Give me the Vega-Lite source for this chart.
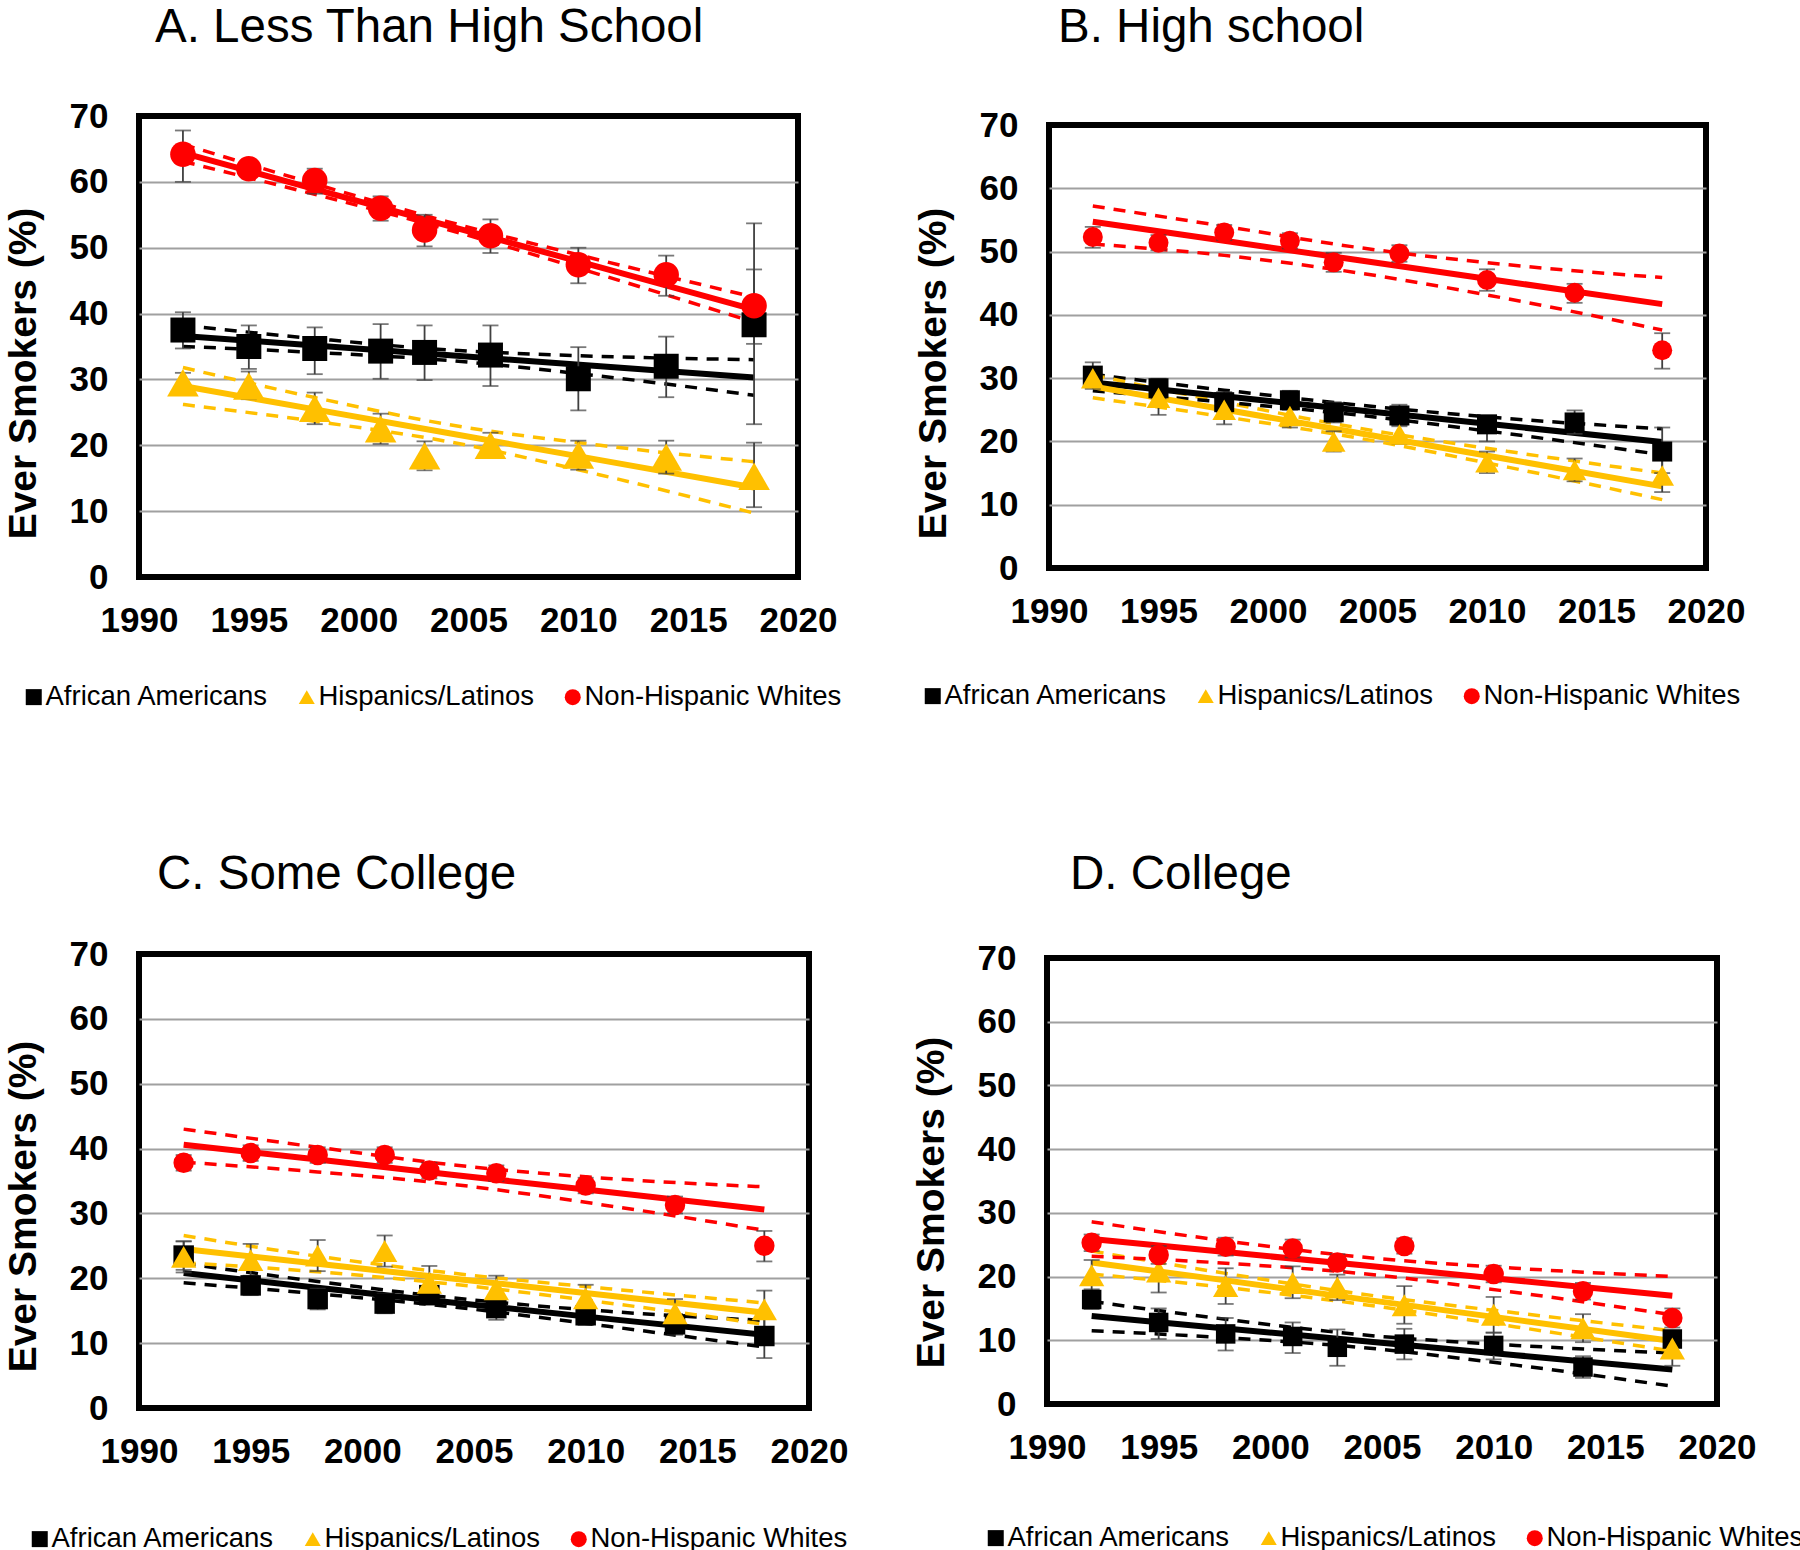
{
  "$schema": "https://vega.github.io/schema/vega-lite/v6.json",
  "background": "white",
  "padding": {"left": 0, "top": 0, "right": 0, "bottom": 0},
  "config": {
    "view": {"stroke": "black", "strokeWidth": 6},
    "font": "Liberation Sans",
    "axis": {"labelFont": "Liberation Sans", "labelFontSize": 35, "labelFontWeight": "bold", "labelColor": "black", "titleFont": "Liberation Sans", "titleFontSize": 39, "titleFontWeight": "bold", "titleColor": "black", "domain": false, "ticks": false, "grid": false},
    "axisX": {"labelPadding": 26, "labelFlush": false},
    "axisY": {"labelPadding": 31, "grid": true, "gridColor": "#A0A0A0", "gridWidth": 2, "titleAngle": -90, "titleBaseline": "middle", "titleAlign": "center"},
    "legend": {"orient": "none", "direction": "horizontal", "labelFont": "Liberation Sans", "labelFontSize": 27.5, "labelColor": "black", "labelLimit": 500, "symbolSize": 256, "symbolStrokeWidth": 0, "labelOffset": -2, "columnPadding": 24, "padding": 0},
    "title": {"font": "Liberation Sans", "fontSize": 47.5, "fontWeight": "normal", "color": "black", "anchor": "start", "baseline": "alphabetic", "frame": "group"}
  },
  "datasets": {
    "pts": [
      {"p":"A","g":"Non-Hispanic Whites","yr":1992,"v":64.2,"lo":60.0,"hi":67.8},
      {"p":"A","g":"Non-Hispanic Whites","yr":1995,"v":62.0,"lo":60.8,"hi":63.2},
      {"p":"A","g":"Non-Hispanic Whites","yr":1998,"v":60.2,"lo":58.2,"hi":62.0},
      {"p":"A","g":"Non-Hispanic Whites","yr":2001,"v":56.0,"lo":54.1,"hi":57.8},
      {"p":"A","g":"Non-Hispanic Whites","yr":2003,"v":52.7,"lo":50.2,"hi":55.0},
      {"p":"A","g":"Non-Hispanic Whites","yr":2006,"v":51.8,"lo":49.2,"hi":54.3},
      {"p":"A","g":"Non-Hispanic Whites","yr":2010,"v":47.4,"lo":44.6,"hi":50.0},
      {"p":"A","g":"Non-Hispanic Whites","yr":2014,"v":45.9,"lo":42.7,"hi":48.8},
      {"p":"A","g":"Non-Hispanic Whites","yr":2018,"v":41.2,"lo":35.4,"hi":46.7},
      {"p":"A","g":"African Americans","yr":1992,"v":37.5,"lo":34.7,"hi":40.2},
      {"p":"A","g":"African Americans","yr":1995,"v":35.0,"lo":31.6,"hi":38.2},
      {"p":"A","g":"African Americans","yr":1998,"v":34.7,"lo":30.8,"hi":37.9},
      {"p":"A","g":"African Americans","yr":2001,"v":34.3,"lo":30.1,"hi":38.4},
      {"p":"A","g":"African Americans","yr":2003,"v":34.1,"lo":29.9,"hi":38.2},
      {"p":"A","g":"African Americans","yr":2006,"v":33.7,"lo":29.0,"hi":38.2},
      {"p":"A","g":"African Americans","yr":2010,"v":30.1,"lo":25.3,"hi":34.9},
      {"p":"A","g":"African Americans","yr":2014,"v":32.0,"lo":27.3,"hi":36.5},
      {"p":"A","g":"African Americans","yr":2018,"v":38.3,"lo":23.2,"hi":53.7},
      {"p":"A","g":"Hispanics/Latinos","yr":1992,"v":29.5,"lo":28.0,"hi":31.0},
      {"p":"A","g":"Hispanics/Latinos","yr":1995,"v":29.0,"lo":27.0,"hi":31.2},
      {"p":"A","g":"Hispanics/Latinos","yr":1998,"v":25.6,"lo":23.2,"hi":28.0},
      {"p":"A","g":"Hispanics/Latinos","yr":2001,"v":22.5,"lo":20.2,"hi":24.8},
      {"p":"A","g":"Hispanics/Latinos","yr":2003,"v":18.4,"lo":16.2,"hi":20.6},
      {"p":"A","g":"Hispanics/Latinos","yr":2006,"v":20.0,"lo":18.1,"hi":21.9},
      {"p":"A","g":"Hispanics/Latinos","yr":2010,"v":18.5,"lo":16.3,"hi":20.7},
      {"p":"A","g":"Hispanics/Latinos","yr":2014,"v":18.2,"lo":15.7,"hi":20.7},
      {"p":"A","g":"Hispanics/Latinos","yr":2018,"v":15.3,"lo":10.6,"hi":20.4},
      {"p":"B","g":"Non-Hispanic Whites","yr":1992,"v":52.3,"lo":50.6,"hi":53.9},
      {"p":"B","g":"Non-Hispanic Whites","yr":1995,"v":51.4,"lo":50.2,"hi":52.6},
      {"p":"B","g":"Non-Hispanic Whites","yr":1998,"v":53.0,"lo":51.8,"hi":54.2},
      {"p":"B","g":"Non-Hispanic Whites","yr":2001,"v":51.7,"lo":50.5,"hi":52.9},
      {"p":"B","g":"Non-Hispanic Whites","yr":2003,"v":48.3,"lo":46.8,"hi":49.8},
      {"p":"B","g":"Non-Hispanic Whites","yr":2006,"v":49.7,"lo":48.4,"hi":51.0},
      {"p":"B","g":"Non-Hispanic Whites","yr":2010,"v":45.5,"lo":43.8,"hi":47.2},
      {"p":"B","g":"Non-Hispanic Whites","yr":2014,"v":43.5,"lo":41.9,"hi":44.9},
      {"p":"B","g":"Non-Hispanic Whites","yr":2018,"v":34.4,"lo":31.5,"hi":37.1},
      {"p":"B","g":"African Americans","yr":1992,"v":30.4,"lo":28.3,"hi":32.5},
      {"p":"B","g":"African Americans","yr":1995,"v":28.4,"lo":26.8,"hi":29.9},
      {"p":"B","g":"African Americans","yr":1998,"v":26.2,"lo":24.6,"hi":27.8},
      {"p":"B","g":"African Americans","yr":2001,"v":26.5,"lo":25.0,"hi":28.0},
      {"p":"B","g":"African Americans","yr":2003,"v":24.6,"lo":23.0,"hi":26.2},
      {"p":"B","g":"African Americans","yr":2006,"v":24.1,"lo":22.4,"hi":25.8},
      {"p":"B","g":"African Americans","yr":2010,"v":22.7,"lo":20.0,"hi":24.0},
      {"p":"B","g":"African Americans","yr":2014,"v":23.0,"lo":21.2,"hi":24.9},
      {"p":"B","g":"African Americans","yr":2018,"v":18.4,"lo":15.0,"hi":22.2},
      {"p":"B","g":"Hispanics/Latinos","yr":1992,"v":30.0,"lo":28.5,"hi":31.5},
      {"p":"B","g":"Hispanics/Latinos","yr":1995,"v":26.9,"lo":24.2,"hi":29.5},
      {"p":"B","g":"Hispanics/Latinos","yr":1998,"v":25.0,"lo":22.7,"hi":27.3},
      {"p":"B","g":"Hispanics/Latinos","yr":2001,"v":24.0,"lo":22.2,"hi":25.8},
      {"p":"B","g":"Hispanics/Latinos","yr":2003,"v":20.0,"lo":18.4,"hi":21.6},
      {"p":"B","g":"Hispanics/Latinos","yr":2006,"v":21.1,"lo":19.6,"hi":22.6},
      {"p":"B","g":"Hispanics/Latinos","yr":2010,"v":16.7,"lo":15.0,"hi":18.4},
      {"p":"B","g":"Hispanics/Latinos","yr":2014,"v":15.5,"lo":13.7,"hi":17.3},
      {"p":"B","g":"Hispanics/Latinos","yr":2018,"v":14.6,"lo":12.0,"hi":17.2},
      {"p":"C","g":"Non-Hispanic Whites","yr":1992,"v":37.8,"lo":36.6,"hi":39.0},
      {"p":"C","g":"Non-Hispanic Whites","yr":1995,"v":39.3,"lo":38.1,"hi":40.5},
      {"p":"C","g":"Non-Hispanic Whites","yr":1998,"v":39.0,"lo":37.8,"hi":40.2},
      {"p":"C","g":"Non-Hispanic Whites","yr":2001,"v":39.0,"lo":37.8,"hi":40.2},
      {"p":"C","g":"Non-Hispanic Whites","yr":2003,"v":36.6,"lo":35.4,"hi":37.8},
      {"p":"C","g":"Non-Hispanic Whites","yr":2006,"v":36.2,"lo":35.0,"hi":37.4},
      {"p":"C","g":"Non-Hispanic Whites","yr":2010,"v":34.3,"lo":33.1,"hi":35.5},
      {"p":"C","g":"Non-Hispanic Whites","yr":2014,"v":31.3,"lo":30.0,"hi":32.6},
      {"p":"C","g":"Non-Hispanic Whites","yr":2018,"v":25.0,"lo":22.6,"hi":27.3},
      {"p":"C","g":"African Americans","yr":1992,"v":23.5,"lo":21.3,"hi":25.7},
      {"p":"C","g":"African Americans","yr":1995,"v":18.9,"lo":17.4,"hi":20.4},
      {"p":"C","g":"African Americans","yr":1998,"v":16.8,"lo":15.2,"hi":18.4},
      {"p":"C","g":"African Americans","yr":2001,"v":16.1,"lo":14.6,"hi":17.6},
      {"p":"C","g":"African Americans","yr":2003,"v":17.4,"lo":16.0,"hi":18.8},
      {"p":"C","g":"African Americans","yr":2006,"v":15.4,"lo":13.6,"hi":17.2},
      {"p":"C","g":"African Americans","yr":2010,"v":14.3,"lo":12.8,"hi":15.8},
      {"p":"C","g":"African Americans","yr":2014,"v":12.9,"lo":11.3,"hi":14.5},
      {"p":"C","g":"African Americans","yr":2018,"v":11.1,"lo":7.7,"hi":14.5},
      {"p":"C","g":"Hispanics/Latinos","yr":1992,"v":23.3,"lo":20.9,"hi":25.7},
      {"p":"C","g":"Hispanics/Latinos","yr":1995,"v":22.8,"lo":20.3,"hi":25.3},
      {"p":"C","g":"Hispanics/Latinos","yr":1998,"v":23.5,"lo":21.1,"hi":25.9},
      {"p":"C","g":"Hispanics/Latinos","yr":2001,"v":24.2,"lo":21.8,"hi":26.6},
      {"p":"C","g":"Hispanics/Latinos","yr":2003,"v":19.3,"lo":16.7,"hi":21.9},
      {"p":"C","g":"Hispanics/Latinos","yr":2006,"v":18.3,"lo":16.2,"hi":20.4},
      {"p":"C","g":"Hispanics/Latinos","yr":2010,"v":16.9,"lo":14.8,"hi":19.0},
      {"p":"C","g":"Hispanics/Latinos","yr":2014,"v":14.6,"lo":12.4,"hi":16.8},
      {"p":"C","g":"Hispanics/Latinos","yr":2018,"v":15.2,"lo":12.3,"hi":18.1},
      {"p":"D","g":"Non-Hispanic Whites","yr":1992,"v":25.3,"lo":24.0,"hi":26.6},
      {"p":"D","g":"Non-Hispanic Whites","yr":1995,"v":23.4,"lo":22.0,"hi":24.8},
      {"p":"D","g":"Non-Hispanic Whites","yr":1998,"v":24.7,"lo":23.3,"hi":26.1},
      {"p":"D","g":"Non-Hispanic Whites","yr":2001,"v":24.4,"lo":23.0,"hi":25.8},
      {"p":"D","g":"Non-Hispanic Whites","yr":2003,"v":22.2,"lo":20.9,"hi":23.5},
      {"p":"D","g":"Non-Hispanic Whites","yr":2006,"v":24.8,"lo":23.6,"hi":26.0},
      {"p":"D","g":"Non-Hispanic Whites","yr":2010,"v":20.4,"lo":19.1,"hi":21.7},
      {"p":"D","g":"Non-Hispanic Whites","yr":2014,"v":17.7,"lo":16.4,"hi":19.0},
      {"p":"D","g":"Non-Hispanic Whites","yr":2018,"v":13.5,"lo":12.0,"hi":15.0},
      {"p":"D","g":"African Americans","yr":1992,"v":16.4,"lo":14.9,"hi":18.0},
      {"p":"D","g":"African Americans","yr":1995,"v":12.8,"lo":10.2,"hi":15.0},
      {"p":"D","g":"African Americans","yr":1998,"v":11.0,"lo":8.4,"hi":13.5},
      {"p":"D","g":"African Americans","yr":2001,"v":10.6,"lo":8.0,"hi":12.8},
      {"p":"D","g":"African Americans","yr":2003,"v":8.9,"lo":6.0,"hi":11.7},
      {"p":"D","g":"African Americans","yr":2006,"v":9.4,"lo":7.0,"hi":11.8},
      {"p":"D","g":"African Americans","yr":2010,"v":9.2,"lo":7.0,"hi":11.2},
      {"p":"D","g":"African Americans","yr":2014,"v":5.8,"lo":4.1,"hi":7.5},
      {"p":"D","g":"African Americans","yr":2018,"v":10.2,"lo":9.0,"hi":11.4},
      {"p":"D","g":"Hispanics/Latinos","yr":1992,"v":20.2,"lo":17.8,"hi":22.6},
      {"p":"D","g":"Hispanics/Latinos","yr":1995,"v":20.8,"lo":17.5,"hi":24.1},
      {"p":"D","g":"Hispanics/Latinos","yr":1998,"v":18.5,"lo":15.7,"hi":21.3},
      {"p":"D","g":"Hispanics/Latinos","yr":2001,"v":19.0,"lo":16.6,"hi":21.6},
      {"p":"D","g":"Hispanics/Latinos","yr":2003,"v":18.3,"lo":16.3,"hi":20.3},
      {"p":"D","g":"Hispanics/Latinos","yr":2006,"v":15.5,"lo":12.6,"hi":18.5},
      {"p":"D","g":"Hispanics/Latinos","yr":2010,"v":14.0,"lo":11.2,"hi":16.8},
      {"p":"D","g":"Hispanics/Latinos","yr":2014,"v":11.9,"lo":9.7,"hi":14.1},
      {"p":"D","g":"Hispanics/Latinos","yr":2018,"v":8.7,"lo":6.0,"hi":11.5}
    ],
    "fit": [
      {"p":"A","g":"Non-Hispanic Whites","yr":1992,"fit":64.4,"ciLo":63.1,"ciHi":65.7},
      {"p":"A","g":"Non-Hispanic Whites","yr":1998,"fit":58.9,"ciLo":58.1,"ciHi":59.7},
      {"p":"A","g":"Non-Hispanic Whites","yr":2004,"fit":53.4,"ciLo":52.8,"ciHi":54.0},
      {"p":"A","g":"Non-Hispanic Whites","yr":2011,"fit":47.0,"ciLo":45.9,"ciHi":48.1},
      {"p":"A","g":"Non-Hispanic Whites","yr":2018,"fit":40.6,"ciLo":38.7,"ciHi":42.5},
      {"p":"A","g":"African Americans","yr":1992,"fit":36.6,"ciLo":35.0,"ciHi":38.2},
      {"p":"A","g":"African Americans","yr":1998,"fit":35.15,"ciLo":34.1,"ciHi":36.2},
      {"p":"A","g":"African Americans","yr":2004,"fit":33.7,"ciLo":32.9,"ciHi":34.5},
      {"p":"A","g":"African Americans","yr":2011,"fit":32.0,"ciLo":30.5,"ciHi":33.5},
      {"p":"A","g":"African Americans","yr":2018,"fit":30.3,"ciLo":27.6,"ciHi":33.0},
      {"p":"A","g":"Hispanics/Latinos","yr":1992,"fit":29.0,"ciLo":26.2,"ciHi":31.8},
      {"p":"A","g":"Hispanics/Latinos","yr":1998,"fit":25.45,"ciLo":23.65,"ciHi":27.25},
      {"p":"A","g":"Hispanics/Latinos","yr":2004,"fit":21.9,"ciLo":20.6,"ciHi":23.2},
      {"p":"A","g":"Hispanics/Latinos","yr":2011,"fit":17.75,"ciLo":15.5,"ciHi":20.0},
      {"p":"A","g":"Hispanics/Latinos","yr":2018,"fit":13.6,"ciLo":9.7,"ciHi":17.5},
      {"p":"B","g":"Non-Hispanic Whites","yr":1992,"fit":54.7,"ciLo":51.2,"ciHi":57.2},
      {"p":"B","g":"Non-Hispanic Whites","yr":1998,"fit":51.7,"ciLo":49.4,"ciHi":54.0},
      {"p":"B","g":"Non-Hispanic Whites","yr":2004,"fit":48.7,"ciLo":46.7,"ciHi":50.7},
      {"p":"B","g":"Non-Hispanic Whites","yr":2011,"fit":45.2,"ciLo":42.5,"ciHi":47.9},
      {"p":"B","g":"Non-Hispanic Whites","yr":2018,"fit":41.7,"ciLo":37.6,"ciHi":45.9},
      {"p":"B","g":"African Americans","yr":1992,"fit":29.3,"ciLo":28.0,"ciHi":30.6},
      {"p":"B","g":"African Americans","yr":1998,"fit":27.13,"ciLo":26.2,"ciHi":28.1},
      {"p":"B","g":"African Americans","yr":2004,"fit":24.96,"ciLo":24.2,"ciHi":25.8},
      {"p":"B","g":"African Americans","yr":2011,"fit":22.43,"ciLo":21.2,"ciHi":23.6},
      {"p":"B","g":"African Americans","yr":2018,"fit":19.9,"ciLo":17.9,"ciHi":22.0},
      {"p":"B","g":"Hispanics/Latinos","yr":1992,"fit":28.7,"ciLo":26.9,"ciHi":30.5},
      {"p":"B","g":"Hispanics/Latinos","yr":1998,"fit":25.05,"ciLo":23.9,"ciHi":26.2},
      {"p":"B","g":"Hispanics/Latinos","yr":2004,"fit":21.4,"ciLo":20.6,"ciHi":22.2},
      {"p":"B","g":"Hispanics/Latinos","yr":2011,"fit":17.15,"ciLo":15.9,"ciHi":18.4},
      {"p":"B","g":"Hispanics/Latinos","yr":2018,"fit":12.9,"ciLo":10.8,"ciHi":15.0},
      {"p":"C","g":"Non-Hispanic Whites","yr":1992,"fit":40.6,"ciLo":37.9,"ciHi":43.0},
      {"p":"C","g":"Non-Hispanic Whites","yr":1998,"fit":38.3,"ciLo":36.4,"ciHi":40.2},
      {"p":"C","g":"Non-Hispanic Whites","yr":2004,"fit":35.98,"ciLo":34.5,"ciHi":37.5},
      {"p":"C","g":"Non-Hispanic Whites","yr":2011,"fit":33.3,"ciLo":31.2,"ciHi":35.4},
      {"p":"C","g":"Non-Hispanic Whites","yr":2018,"fit":30.6,"ciLo":27.4,"ciHi":34.1},
      {"p":"C","g":"African Americans","yr":1992,"fit":20.8,"ciLo":19.3,"ciHi":22.3},
      {"p":"C","g":"African Americans","yr":1998,"fit":18.54,"ciLo":17.6,"ciHi":19.5},
      {"p":"C","g":"African Americans","yr":2004,"fit":16.28,"ciLo":15.6,"ciHi":17.0},
      {"p":"C","g":"African Americans","yr":2011,"fit":13.74,"ciLo":12.6,"ciHi":14.9},
      {"p":"C","g":"African Americans","yr":2018,"fit":11.3,"ciLo":9.4,"ciHi":13.5},
      {"p":"C","g":"Hispanics/Latinos","yr":1992,"fit":24.5,"ciLo":22.4,"ciHi":26.6},
      {"p":"C","g":"Hispanics/Latinos","yr":1998,"fit":22.24,"ciLo":21.0,"ciHi":23.4},
      {"p":"C","g":"Hispanics/Latinos","yr":2004,"fit":19.98,"ciLo":19.1,"ciHi":20.8},
      {"p":"C","g":"Hispanics/Latinos","yr":2011,"fit":17.34,"ciLo":16.2,"ciHi":18.4},
      {"p":"C","g":"Hispanics/Latinos","yr":2018,"fit":14.7,"ciLo":12.9,"ciHi":16.2},
      {"p":"D","g":"Non-Hispanic Whites","yr":1992,"fit":25.9,"ciLo":23.2,"ciHi":28.6},
      {"p":"D","g":"Non-Hispanic Whites","yr":1998,"fit":23.85,"ciLo":22.1,"ciHi":25.6},
      {"p":"D","g":"Non-Hispanic Whites","yr":2004,"fit":21.8,"ciLo":20.5,"ciHi":23.1},
      {"p":"D","g":"Non-Hispanic Whites","yr":2011,"fit":19.4,"ciLo":17.5,"ciHi":21.3},
      {"p":"D","g":"Non-Hispanic Whites","yr":2018,"fit":17.0,"ciLo":14.0,"ciHi":20.0},
      {"p":"D","g":"African Americans","yr":1992,"fit":13.8,"ciLo":11.5,"ciHi":16.1},
      {"p":"D","g":"African Americans","yr":1998,"fit":11.86,"ciLo":10.4,"ciHi":13.3},
      {"p":"D","g":"African Americans","yr":2004,"fit":9.92,"ciLo":8.9,"ciHi":10.9},
      {"p":"D","g":"African Americans","yr":2011,"fit":7.66,"ciLo":6.1,"ciHi":9.2},
      {"p":"D","g":"African Americans","yr":2018,"fit":5.4,"ciLo":2.8,"ciHi":8.0},
      {"p":"D","g":"Hispanics/Latinos","yr":1992,"fit":22.2,"ciLo":20.4,"ciHi":24.0},
      {"p":"D","g":"Hispanics/Latinos","yr":1998,"fit":19.4,"ciLo":18.3,"ciHi":20.5},
      {"p":"D","g":"Hispanics/Latinos","yr":2004,"fit":16.5,"ciLo":15.7,"ciHi":17.3},
      {"p":"D","g":"Hispanics/Latinos","yr":2011,"fit":13.2,"ciLo":12.1,"ciHi":14.3},
      {"p":"D","g":"Hispanics/Latinos","yr":2018,"fit":9.9,"ciLo":8.3,"ciHi":11.5}
    ]
  },
  "vconcat": [
    {
      "hconcat": [
        {
          "width": 659, "height": 461,
          "title": {"text": "A. Less Than High School", "dx": 16, "offset": 48},
          "layer": [
            {"data": {"name": "fit"}, "transform": [{"filter": "datum.p==='A'"}], "mark": {"type": "line", "strokeWidth": 3.5, "strokeDash": [12, 9], "interpolate": "monotone"},
             "encoding": {"x": {"field": "yr", "type": "quantitative", "scale": {"domain": [1990, 2020]}, "title": null, "axis": {"values": [1990, 1995, 2000, 2005, 2010, 2015, 2020], "format": "d"}},
                          "y": {"field": "ciHi", "type": "quantitative", "scale": {"domain": [0, 70]}, "title": "Ever Smokers (%)", "axis": {"values": [0, 10, 20, 30, 40, 50, 60, 70], "titleX": -116, "titleY": 257, "gridOpacity": {"condition": {"test": "datum.value===0||datum.value===70", "value": 0}, "value": 1}}},
                          "stroke": {"field": "g", "type": "nominal", "scale": {"range": ["#000000", "#FFC000", "#FF0000"]}, "legend": null}}},
            {"data": {"name": "fit"}, "transform": [{"filter": "datum.p==='A'"}], "mark": {"type": "line", "strokeWidth": 3.5, "strokeDash": [12, 9], "interpolate": "monotone"},
             "encoding": {"x": {"field": "yr", "type": "quantitative", "title": null}, "y": {"field": "ciLo", "type": "quantitative", "title": "Ever Smokers (%)"}, "stroke": {"field": "g", "type": "nominal", "legend": null}}},
            {"data": {"name": "fit"}, "transform": [{"filter": "datum.p==='A'"}], "mark": {"type": "line", "strokeWidth": 6},
             "encoding": {"x": {"field": "yr", "type": "quantitative", "title": null}, "y": {"field": "fit", "type": "quantitative", "title": "Ever Smokers (%)"}, "stroke": {"field": "g", "type": "nominal", "legend": null}}},
            {"data": {"name": "pts"}, "transform": [{"filter": "datum.p==='A'"}], "mark": {"type": "errorbar", "ticks": {"color": "#404040"}, "rule": {"color": "#404040"}, "thickness": 1.8, "size": 16},
             "encoding": {"x": {"field": "yr", "type": "quantitative", "title": null}, "y": {"field": "lo", "type": "quantitative", "title": "Ever Smokers (%)"}, "y2": {"field": "hi"}}},
            {"data": {"name": "pts"}, "transform": [{"filter": "datum.p==='A' && datum.g==='African Americans'"}], "mark": {"type": "point", "filled": true, "opacity": 1, "size": 625, "strokeWidth": 0},
             "encoding": {"x": {"field": "yr", "type": "quantitative", "title": null}, "y": {"field": "v", "type": "quantitative", "title": "Ever Smokers (%)"},
                          "color": {"field": "g", "type": "nominal", "scale": {"domain": ["African Americans", "Hispanics/Latinos", "Non-Hispanic Whites"], "range": ["#000000", "#FFC000", "#FF0000"]}, "legend": {"title": null, "orient": "none", "legendX": -119, "legendY": 567}},
                          "shape": {"field": "g", "type": "nominal", "scale": {"domain": ["African Americans", "Hispanics/Latinos", "Non-Hispanic Whites"], "range": ["square", "triangle-up", "circle"]}, "legend": {"title": null, "orient": "none", "legendX": -119, "legendY": 567}}}},
            {"data": {"name": "pts"}, "transform": [{"filter": "datum.p==='A' && datum.g==='Hispanics/Latinos'"}], "mark": {"type": "point", "filled": true, "opacity": 1, "size": 1000, "strokeWidth": 0},
             "encoding": {"x": {"field": "yr", "type": "quantitative", "title": null}, "y": {"field": "v", "type": "quantitative", "title": "Ever Smokers (%)"},
                          "color": {"field": "g", "type": "nominal", "scale": {"domain": ["African Americans", "Hispanics/Latinos", "Non-Hispanic Whites"], "range": ["#000000", "#FFC000", "#FF0000"]}, "legend": {"title": null, "orient": "none", "legendX": -119, "legendY": 567}},
                          "shape": {"field": "g", "type": "nominal", "scale": {"domain": ["African Americans", "Hispanics/Latinos", "Non-Hispanic Whites"], "range": ["square", "triangle-up", "circle"]}, "legend": {"title": null, "orient": "none", "legendX": -119, "legendY": 567}}}},
            {"data": {"name": "pts"}, "transform": [{"filter": "datum.p==='A' && datum.g==='Non-Hispanic Whites'"}], "mark": {"type": "point", "filled": true, "opacity": 1, "size": 650, "strokeWidth": 0},
             "encoding": {"x": {"field": "yr", "type": "quantitative", "title": null}, "y": {"field": "v", "type": "quantitative", "title": "Ever Smokers (%)"},
                          "color": {"field": "g", "type": "nominal", "scale": {"domain": ["African Americans", "Hispanics/Latinos", "Non-Hispanic Whites"], "range": ["#000000", "#FFC000", "#FF0000"]}, "legend": {"title": null, "orient": "none", "legendX": -119, "legendY": 567}},
                          "shape": {"field": "g", "type": "nominal", "scale": {"domain": ["African Americans", "Hispanics/Latinos", "Non-Hispanic Whites"], "range": ["square", "triangle-up", "circle"]}, "legend": {"title": null, "orient": "none", "legendX": -119, "legendY": 567}}}}
          ]
        },
        {
          "width": 657, "height": 443,
          "title": {"text": "B. High school", "dx": 9, "offset": 57},
          "layer": [
            {"data": {"name": "fit"}, "transform": [{"filter": "datum.p==='B'"}], "mark": {"type": "line", "strokeWidth": 3.5, "strokeDash": [12, 9], "interpolate": "monotone"},
             "encoding": {"x": {"field": "yr", "type": "quantitative", "scale": {"domain": [1990, 2020]}, "title": null, "axis": {"values": [1990, 1995, 2000, 2005, 2010, 2015, 2020], "format": "d"}},
                          "y": {"field": "ciHi", "type": "quantitative", "scale": {"domain": [0, 70]}, "title": "Ever Smokers (%)", "axis": {"values": [0, 10, 20, 30, 40, 50, 60, 70], "titleX": -116, "titleY": 248, "gridOpacity": {"condition": {"test": "datum.value===0||datum.value===70", "value": 0}, "value": 1}}},
                          "stroke": {"field": "g", "type": "nominal", "scale": {"range": ["#000000", "#FFC000", "#FF0000"]}, "legend": null}}},
            {"data": {"name": "fit"}, "transform": [{"filter": "datum.p==='B'"}], "mark": {"type": "line", "strokeWidth": 3.5, "strokeDash": [12, 9], "interpolate": "monotone"},
             "encoding": {"x": {"field": "yr", "type": "quantitative", "title": null}, "y": {"field": "ciLo", "type": "quantitative", "title": "Ever Smokers (%)"}, "stroke": {"field": "g", "type": "nominal", "legend": null}}},
            {"data": {"name": "fit"}, "transform": [{"filter": "datum.p==='B'"}], "mark": {"type": "line", "strokeWidth": 6},
             "encoding": {"x": {"field": "yr", "type": "quantitative", "title": null}, "y": {"field": "fit", "type": "quantitative", "title": "Ever Smokers (%)"}, "stroke": {"field": "g", "type": "nominal", "legend": null}}},
            {"data": {"name": "pts"}, "transform": [{"filter": "datum.p==='B'"}], "mark": {"type": "errorbar", "ticks": {"color": "#404040"}, "rule": {"color": "#404040"}, "thickness": 1.8, "size": 16},
             "encoding": {"x": {"field": "yr", "type": "quantitative", "title": null}, "y": {"field": "lo", "type": "quantitative", "title": "Ever Smokers (%)"}, "y2": {"field": "hi"}}},
            {"data": {"name": "pts"}, "transform": [{"filter": "datum.p==='B' && datum.g==='African Americans'"}], "mark": {"type": "point", "filled": true, "opacity": 1, "size": 400, "strokeWidth": 0},
             "encoding": {"x": {"field": "yr", "type": "quantitative", "title": null}, "y": {"field": "v", "type": "quantitative", "title": "Ever Smokers (%)"},
                          "color": {"field": "g", "type": "nominal", "scale": {"domain": ["African Americans", "Hispanics/Latinos", "Non-Hispanic Whites"], "range": ["#000000", "#FFC000", "#FF0000"]}, "legend": {"title": null, "orient": "none", "legendX": -130, "legendY": 557}},
                          "shape": {"field": "g", "type": "nominal", "scale": {"domain": ["African Americans", "Hispanics/Latinos", "Non-Hispanic Whites"], "range": ["square", "triangle-up", "circle"]}, "legend": {"title": null, "orient": "none", "legendX": -130, "legendY": 557}}}},
            {"data": {"name": "pts"}, "transform": [{"filter": "datum.p==='B' && datum.g==='Hispanics/Latinos'"}], "mark": {"type": "point", "filled": true, "opacity": 1, "size": 560, "strokeWidth": 0},
             "encoding": {"x": {"field": "yr", "type": "quantitative", "title": null}, "y": {"field": "v", "type": "quantitative", "title": "Ever Smokers (%)"},
                          "color": {"field": "g", "type": "nominal", "scale": {"domain": ["African Americans", "Hispanics/Latinos", "Non-Hispanic Whites"], "range": ["#000000", "#FFC000", "#FF0000"]}, "legend": {"title": null, "orient": "none", "legendX": -130, "legendY": 557}},
                          "shape": {"field": "g", "type": "nominal", "scale": {"domain": ["African Americans", "Hispanics/Latinos", "Non-Hispanic Whites"], "range": ["square", "triangle-up", "circle"]}, "legend": {"title": null, "orient": "none", "legendX": -130, "legendY": 557}}}},
            {"data": {"name": "pts"}, "transform": [{"filter": "datum.p==='B' && datum.g==='Non-Hispanic Whites'"}], "mark": {"type": "point", "filled": true, "opacity": 1, "size": 400, "strokeWidth": 0},
             "encoding": {"x": {"field": "yr", "type": "quantitative", "title": null}, "y": {"field": "v", "type": "quantitative", "title": "Ever Smokers (%)"},
                          "color": {"field": "g", "type": "nominal", "scale": {"domain": ["African Americans", "Hispanics/Latinos", "Non-Hispanic Whites"], "range": ["#000000", "#FFC000", "#FF0000"]}, "legend": {"title": null, "orient": "none", "legendX": -130, "legendY": 557}},
                          "shape": {"field": "g", "type": "nominal", "scale": {"domain": ["African Americans", "Hispanics/Latinos", "Non-Hispanic Whites"], "range": ["square", "triangle-up", "circle"]}, "legend": {"title": null, "orient": "none", "legendX": -130, "legendY": 557}}}}
          ]
        }
      ],
      "spacing": 251, "bounds": "flush", "center": true,
      "resolve": {"scale": {"color": "independent", "shape": "independent", "stroke": "independent"}, "legend": {"color": "independent", "shape": "independent"}}
    },
    {
      "hconcat": [
        {
          "width": 670, "height": 454,
          "title": {"text": "C. Some College", "dx": 18, "offset": 39},
          "layer": [
            {"data": {"name": "fit"}, "transform": [{"filter": "datum.p==='C'"}], "mark": {"type": "line", "strokeWidth": 3.5, "strokeDash": [12, 9], "interpolate": "monotone"},
             "encoding": {"x": {"field": "yr", "type": "quantitative", "scale": {"domain": [1990, 2020]}, "title": null, "axis": {"values": [1990, 1995, 2000, 2005, 2010, 2015, 2020], "format": "d"}},
                          "y": {"field": "ciHi", "type": "quantitative", "scale": {"domain": [0, 70]}, "title": "Ever Smokers (%)", "axis": {"values": [0, 10, 20, 30, 40, 50, 60, 70], "titleX": -116, "titleY": 252, "gridOpacity": {"condition": {"test": "datum.value===0||datum.value===70", "value": 0}, "value": 1}}},
                          "stroke": {"field": "g", "type": "nominal", "scale": {"range": ["#000000", "#FFC000", "#FF0000"]}, "legend": null}}},
            {"data": {"name": "fit"}, "transform": [{"filter": "datum.p==='C'"}], "mark": {"type": "line", "strokeWidth": 3.5, "strokeDash": [12, 9], "interpolate": "monotone"},
             "encoding": {"x": {"field": "yr", "type": "quantitative", "title": null}, "y": {"field": "ciLo", "type": "quantitative", "title": "Ever Smokers (%)"}, "stroke": {"field": "g", "type": "nominal", "legend": null}}},
            {"data": {"name": "fit"}, "transform": [{"filter": "datum.p==='C'"}], "mark": {"type": "line", "strokeWidth": 6},
             "encoding": {"x": {"field": "yr", "type": "quantitative", "title": null}, "y": {"field": "fit", "type": "quantitative", "title": "Ever Smokers (%)"}, "stroke": {"field": "g", "type": "nominal", "legend": null}}},
            {"data": {"name": "pts"}, "transform": [{"filter": "datum.p==='C'"}], "mark": {"type": "errorbar", "ticks": {"color": "#404040"}, "rule": {"color": "#404040"}, "thickness": 1.8, "size": 16},
             "encoding": {"x": {"field": "yr", "type": "quantitative", "title": null}, "y": {"field": "lo", "type": "quantitative", "title": "Ever Smokers (%)"}, "y2": {"field": "hi"}}},
            {"data": {"name": "pts"}, "transform": [{"filter": "datum.p==='C' && datum.g==='African Americans'"}], "mark": {"type": "point", "filled": true, "opacity": 1, "size": 420, "strokeWidth": 0},
             "encoding": {"x": {"field": "yr", "type": "quantitative", "title": null}, "y": {"field": "v", "type": "quantitative", "title": "Ever Smokers (%)"},
                          "color": {"field": "g", "type": "nominal", "scale": {"domain": ["African Americans", "Hispanics/Latinos", "Non-Hispanic Whites"], "range": ["#000000", "#FFC000", "#FF0000"]}, "legend": {"title": null, "orient": "none", "legendX": -113, "legendY": 571}},
                          "shape": {"field": "g", "type": "nominal", "scale": {"domain": ["African Americans", "Hispanics/Latinos", "Non-Hispanic Whites"], "range": ["square", "triangle-up", "circle"]}, "legend": {"title": null, "orient": "none", "legendX": -113, "legendY": 571}}}},
            {"data": {"name": "pts"}, "transform": [{"filter": "datum.p==='C' && datum.g==='Hispanics/Latinos'"}], "mark": {"type": "point", "filled": true, "opacity": 1, "size": 640, "strokeWidth": 0},
             "encoding": {"x": {"field": "yr", "type": "quantitative", "title": null}, "y": {"field": "v", "type": "quantitative", "title": "Ever Smokers (%)"},
                          "color": {"field": "g", "type": "nominal", "scale": {"domain": ["African Americans", "Hispanics/Latinos", "Non-Hispanic Whites"], "range": ["#000000", "#FFC000", "#FF0000"]}, "legend": {"title": null, "orient": "none", "legendX": -113, "legendY": 571}},
                          "shape": {"field": "g", "type": "nominal", "scale": {"domain": ["African Americans", "Hispanics/Latinos", "Non-Hispanic Whites"], "range": ["square", "triangle-up", "circle"]}, "legend": {"title": null, "orient": "none", "legendX": -113, "legendY": 571}}}},
            {"data": {"name": "pts"}, "transform": [{"filter": "datum.p==='C' && datum.g==='Non-Hispanic Whites'"}], "mark": {"type": "point", "filled": true, "opacity": 1, "size": 420, "strokeWidth": 0},
             "encoding": {"x": {"field": "yr", "type": "quantitative", "title": null}, "y": {"field": "v", "type": "quantitative", "title": "Ever Smokers (%)"},
                          "color": {"field": "g", "type": "nominal", "scale": {"domain": ["African Americans", "Hispanics/Latinos", "Non-Hispanic Whites"], "range": ["#000000", "#FFC000", "#FF0000"]}, "legend": {"title": null, "orient": "none", "legendX": -113, "legendY": 571}},
                          "shape": {"field": "g", "type": "nominal", "scale": {"domain": ["African Americans", "Hispanics/Latinos", "Non-Hispanic Whites"], "range": ["square", "triangle-up", "circle"]}, "legend": {"title": null, "orient": "none", "legendX": -113, "legendY": 571}}}}
          ]
        },
        {
          "width": 670, "height": 446,
          "title": {"text": "D. College", "dx": 23, "offset": 43},
          "layer": [
            {"data": {"name": "fit"}, "transform": [{"filter": "datum.p==='D'"}], "mark": {"type": "line", "strokeWidth": 3.5, "strokeDash": [12, 9], "interpolate": "monotone"},
             "encoding": {"x": {"field": "yr", "type": "quantitative", "scale": {"domain": [1990, 2020]}, "title": null, "axis": {"values": [1990, 1995, 2000, 2005, 2010, 2015, 2020], "format": "d"}},
                          "y": {"field": "ciHi", "type": "quantitative", "scale": {"domain": [0, 70]}, "title": "Ever Smokers (%)", "axis": {"values": [0, 10, 20, 30, 40, 50, 60, 70], "titleX": -116, "titleY": 244, "gridOpacity": {"condition": {"test": "datum.value===0||datum.value===70", "value": 0}, "value": 1}}},
                          "stroke": {"field": "g", "type": "nominal", "scale": {"range": ["#000000", "#FFC000", "#FF0000"]}, "legend": null}}},
            {"data": {"name": "fit"}, "transform": [{"filter": "datum.p==='D'"}], "mark": {"type": "line", "strokeWidth": 3.5, "strokeDash": [12, 9], "interpolate": "monotone"},
             "encoding": {"x": {"field": "yr", "type": "quantitative", "title": null}, "y": {"field": "ciLo", "type": "quantitative", "title": "Ever Smokers (%)"}, "stroke": {"field": "g", "type": "nominal", "legend": null}}},
            {"data": {"name": "fit"}, "transform": [{"filter": "datum.p==='D'"}], "mark": {"type": "line", "strokeWidth": 6},
             "encoding": {"x": {"field": "yr", "type": "quantitative", "title": null}, "y": {"field": "fit", "type": "quantitative", "title": "Ever Smokers (%)"}, "stroke": {"field": "g", "type": "nominal", "legend": null}}},
            {"data": {"name": "pts"}, "transform": [{"filter": "datum.p==='D'"}], "mark": {"type": "errorbar", "ticks": {"color": "#404040"}, "rule": {"color": "#404040"}, "thickness": 1.8, "size": 16},
             "encoding": {"x": {"field": "yr", "type": "quantitative", "title": null}, "y": {"field": "lo", "type": "quantitative", "title": "Ever Smokers (%)"}, "y2": {"field": "hi"}}},
            {"data": {"name": "pts"}, "transform": [{"filter": "datum.p==='D' && datum.g==='African Americans'"}], "mark": {"type": "point", "filled": true, "opacity": 1, "size": 380, "strokeWidth": 0},
             "encoding": {"x": {"field": "yr", "type": "quantitative", "title": null}, "y": {"field": "v", "type": "quantitative", "title": "Ever Smokers (%)"},
                          "color": {"field": "g", "type": "nominal", "scale": {"domain": ["African Americans", "Hispanics/Latinos", "Non-Hispanic Whites"], "range": ["#000000", "#FFC000", "#FF0000"]}, "legend": {"title": null, "orient": "none", "legendX": -65, "legendY": 566}},
                          "shape": {"field": "g", "type": "nominal", "scale": {"domain": ["African Americans", "Hispanics/Latinos", "Non-Hispanic Whites"], "range": ["square", "triangle-up", "circle"]}, "legend": {"title": null, "orient": "none", "legendX": -65, "legendY": 566}}}},
            {"data": {"name": "pts"}, "transform": [{"filter": "datum.p==='D' && datum.g==='Hispanics/Latinos'"}], "mark": {"type": "point", "filled": true, "opacity": 1, "size": 640, "strokeWidth": 0},
             "encoding": {"x": {"field": "yr", "type": "quantitative", "title": null}, "y": {"field": "v", "type": "quantitative", "title": "Ever Smokers (%)"},
                          "color": {"field": "g", "type": "nominal", "scale": {"domain": ["African Americans", "Hispanics/Latinos", "Non-Hispanic Whites"], "range": ["#000000", "#FFC000", "#FF0000"]}, "legend": {"title": null, "orient": "none", "legendX": -65, "legendY": 566}},
                          "shape": {"field": "g", "type": "nominal", "scale": {"domain": ["African Americans", "Hispanics/Latinos", "Non-Hispanic Whites"], "range": ["square", "triangle-up", "circle"]}, "legend": {"title": null, "orient": "none", "legendX": -65, "legendY": 566}}}},
            {"data": {"name": "pts"}, "transform": [{"filter": "datum.p==='D' && datum.g==='Non-Hispanic Whites'"}], "mark": {"type": "point", "filled": true, "opacity": 1, "size": 420, "strokeWidth": 0},
             "encoding": {"x": {"field": "yr", "type": "quantitative", "title": null}, "y": {"field": "v", "type": "quantitative", "title": "Ever Smokers (%)"},
                          "color": {"field": "g", "type": "nominal", "scale": {"domain": ["African Americans", "Hispanics/Latinos", "Non-Hispanic Whites"], "range": ["#000000", "#FFC000", "#FF0000"]}, "legend": {"title": null, "orient": "none", "legendX": -65, "legendY": 566}},
                          "shape": {"field": "g", "type": "nominal", "scale": {"domain": ["African Americans", "Hispanics/Latinos", "Non-Hispanic Whites"], "range": ["square", "triangle-up", "circle"]}, "legend": {"title": null, "orient": "none", "legendX": -65, "legendY": 566}}}}
          ]
        }
      ],
      "spacing": 238, "bounds": "flush", "center": true,
      "resolve": {"scale": {"color": "independent", "shape": "independent", "stroke": "independent"}, "legend": {"color": "independent", "shape": "independent"}}
    }
  ],
  "spacing": 133,
  "resolve": {"scale": {"color": "independent", "shape": "independent", "stroke": "independent"}, "legend": {"color": "independent", "shape": "independent"}}
}
